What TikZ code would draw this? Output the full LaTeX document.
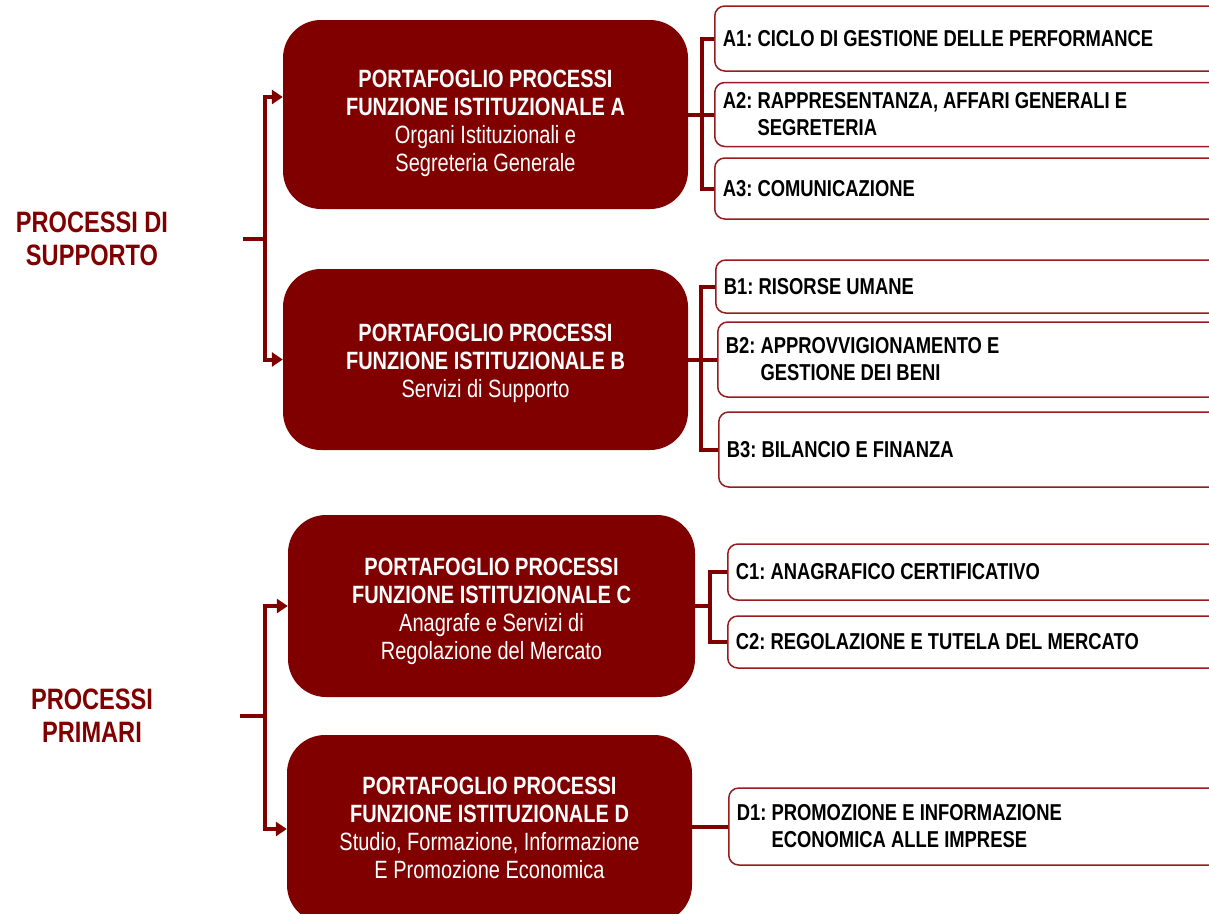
\documentclass[tikz,border=0pt]{standalone}
\usepackage{fontspec}
\setmainfont{Liberation Sans}[FakeStretch=0.8]
\usetikzlibrary{arrows.meta}
\definecolor{bordeaux}{RGB}{128,0,0}
\definecolor{edgered}{RGB}{150,28,32}
\newcommand{\bx}[1]{\textbf{#1}}
\newcommand{\lowered}[2]{\raisebox{-#1}[\height][\depth]{\begin{tabular}{@{}c@{}}#2\end{tabular}}}

\begin{document}
\frenchspacing
\begin{tikzpicture}[x=1pt,y=-1pt,
	portfolio/.style={rectangle,rounded corners=38pt,fill=bordeaux,text=white,align=center,
	minimum width=405pt,inner sep=0pt,font=\fontsize{25}{28}\selectfont},
	process/.style={rectangle,rounded corners=10pt,draw=edgered,line width=1.5pt,fill=white,
	anchor=west,minimum width=520pt,text width=504pt,inner xsep=8pt,inner ysep=0pt,align=flush left,
	font=\fontsize{23}{27}\selectfont\bfseries},
	group/.style={text=bordeaux,align=center,font=\fontsize{29.5}{33}\selectfont\bfseries},
	link/.style={draw=bordeaux,line width=4pt},
	feed/.style={link,-{Triangle[length=11pt,width=14pt]}}]
\useasboundingbox (0,0) rectangle (1209,913);
\clip (0,0) rectangle (1209,913);
\node[group] (supporto) at (92,239) {PROCESSI DI\\SUPPORTO};
\node[group] (primari) at (92,716) {PROCESSI\\PRIMARI};
\node[portfolio,minimum height=189pt] (A) at (485.5,114.5) {\lowered{9pt}{\bx{PORTAFOGLIO PROCESSI}\\\bx{FUNZIONE ISTITUZIONALE A}\\Organi Istituzionali e\\Segreteria Generale}};
\node[portfolio,minimum height=181pt] (B) at (485.5,359.5) {\lowered{4pt}{\bx{PORTAFOGLIO PROCESSI}\\\bx{FUNZIONE ISTITUZIONALE B}\\Servizi di Supporto}};
\node[portfolio,minimum height=182pt,minimum width=407pt] (C) at (491.5,606) {\lowered{6pt}{\bx{PORTAFOGLIO PROCESSI}\\\bx{FUNZIONE ISTITUZIONALE C}\\Anagrafe e Servizi di\\Regolazione del Mercato}};
\node[portfolio,minimum height=188pt] (D) at (489.5,829) {\lowered{1.5pt}{\bx{PORTAFOGLIO PROCESSI}\\\bx{FUNZIONE ISTITUZIONALE D}\\Studio, Formazione, Informazione\\E Promozione Economica}};
\node[process,minimum height=65pt] (A1) at (714,38.5) {A1: CICLO DI GESTIONE DELLE PERFORMANCE};
\node[process,minimum height=64pt] (A2) at (714,114.5) {A2: RAPPRESENTANZA, AFFARI GENERALI E\\\phantom{A2: }SEGRETERIA};
\node[process,minimum height=61pt] (A3) at (714,188.5) {A3: COMUNICAZIONE};
\node[process,minimum height=53pt] (B1) at (715,286.5) {B1: RISORSE UMANE};
\node[process,minimum height=75pt] (B2) at (717,359.5) {B2: APPROVVIGIONAMENTO E\\\phantom{B2: }GESTIONE DEI BENI};
\node[process,minimum height=75pt] (B3) at (718,449.5) {B3: BILANCIO E FINANZA};
\node[process,minimum height=56pt] (C1) at (727,572) {C1: ANAGRAFICO CERTIFICATIVO};
\node[process,minimum height=52pt] (C2) at (727,642) {C2: REGOLAZIONE E TUTELA DEL MERCATO};
\node[process,minimum height=77pt] (D1) at (728,826.5) {D1: PROMOZIONE E INFORMAZIONE\\\phantom{D1: }ECONOMICA ALLE IMPRESE};
\coordinate (supstub) at (243,239);
\coordinate (supjoin) at (265,239);
\draw[link] (supstub) -- (supjoin);
\draw[feed] (supjoin) |- ([yshift=17.5pt]A.west);
\draw[feed] (supjoin) |- (B.west);
\coordinate (primstub) at (240,716);
\coordinate (primjoin) at (265,716);
\draw[link] (primstub) -- (primjoin);
\draw[feed] (primjoin) |- (C.west);
\draw[feed] (primjoin) |- (D.west);
\coordinate (ajoin) at (702,114.5);
\draw[link] (A.east) -- (A2.west);
\draw[link] (A1.west) -| (ajoin) |- (A3.west);
\coordinate (bjoin) at (701,359.5);
\draw[link] (B.east) -- (B2.west);
\draw[link] (B1.west) -| (bjoin) |- (B3.west);
\coordinate (cjoin) at (710,606);
\draw[link] (C.east) -- (cjoin);
\draw[link] (C1.west) -| (cjoin) |- (C2.west);
\draw[link] (D.east |- D1.west) -- (D1.west);
\end{tikzpicture}
\end{document}
